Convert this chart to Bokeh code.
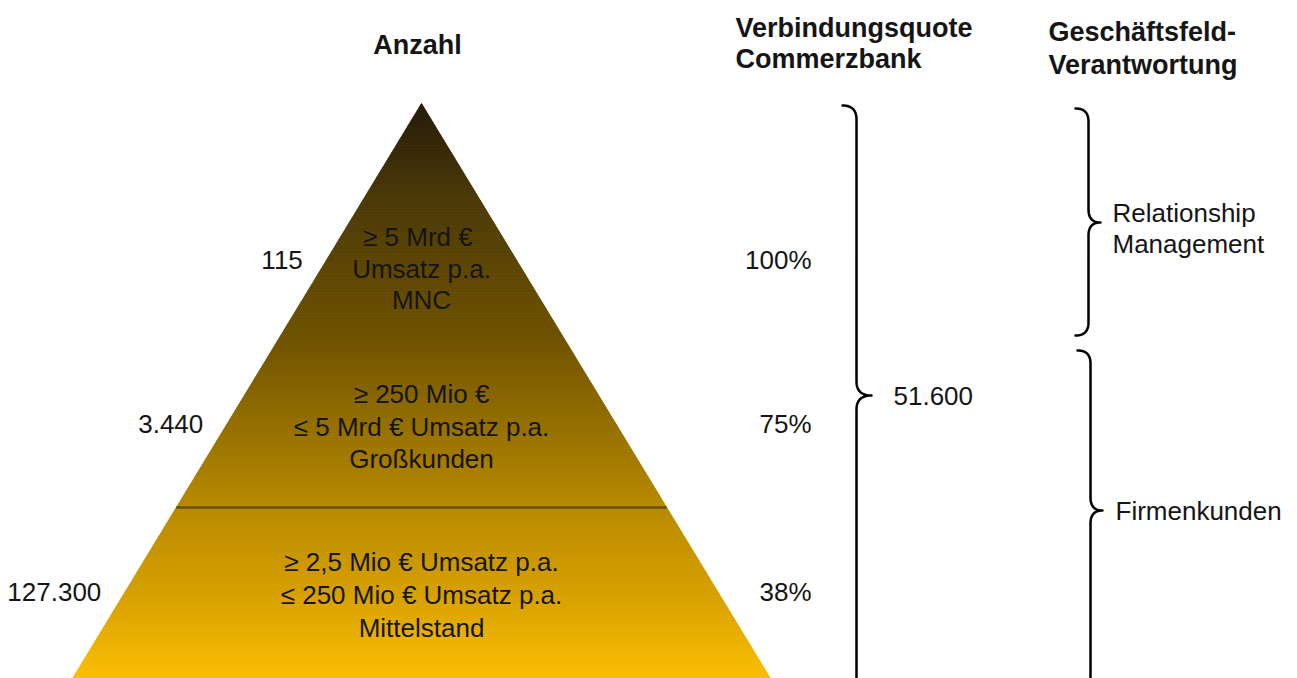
import numpy as np
from bokeh.plotting import figure
from bokeh.models import Range1d, ColumnDataSource
from bokeh.core.properties import value
from bokeh.embed import file_html
from bokeh.resources import INLINE

# ---------------- data ----------------
segments = ["MNC", "Großkunden", "Mittelstand"]
segment_lines = [
    ["≥  5 Mrd €", "Umsatz p.a.", "MNC"],
    ["≥ 250 Mio €", "≤ 5 Mrd € Umsatz p.a.", "Großkunden"],
    ["≥ 2,5 Mio € Umsatz p.a.", "≤ 250 Mio € Umsatz p.a.", "Mittelstand"],
]
anzahl = ["115", "3.440", "127.300"]
verbindungsquote = ["100%", "75%", "38%"]
verbunden_gesamt = "51.600"
verantwortung = [["Relationship", "Management"], ["Firmenkunden"]]
headers = {
    "anzahl": ["Anzahl"],
    "quote": ["Verbindungsquote", "Commerzbank"],
    "gf": ["Geschäftsfeld-", "Verantwortung"],
}

# ---------------- layout (reference pixel units) ----------------
CX, APEX_Y, BASE_Y, BASE_HALF = 421.0, 103.0, 678.0, 349.0
BAND_Y = [APEX_Y, 340.0, 507.0, BASE_Y]
ROW_TEXT_Y = [[236, 268, 299], [393, 426, 458], [561, 594, 627]]
ROW_LABEL_Y = [259, 423, 591]

BODY_FONT = value("Liberation Sans")
BODY_SIZE = "26px"
HEAD_SIZE = "27px"
TXT = "#151515"

p = figure(width=1297, height=678, x_range=Range1d(0, 1297), y_range=Range1d(678, 0),
           output_backend="svg", toolbar_location=None, min_border=0)
p.axis.visible = False
p.grid.visible = False
p.outline_line_color = None
p.background_fill_color = "white"
p.border_fill_color = "white"


def half_width(y):
    return BASE_HALF * (np.asarray(y) - APEX_Y) / (BASE_Y - APEX_Y)


# gradient stops (style)
stop_y = [103, 200, 340, 500, 600, 678]
stop_rgb = np.array([
    [0x25, 0x1b, 0x0a],
    [0x4c, 0x3a, 0x08],
    [0x70, 0x53, 0x00],
    [0xb5, 0x88, 0x00],
    [0xd9, 0xa2, 0x00],
    [0xfb, 0xbe, 0x05],
])

ys = np.arange(APEX_Y, BASE_Y + 6, 1.5)
xs_list, ys_list, cols = [], [], []
for ya, yb in zip(ys[:-1], ys[1:]):
    ha, hb = half_width(ya), half_width(yb)
    xs_list.append([CX - ha, CX + ha, CX + hb, CX - hb])
    ys_list.append([ya, ya, yb, yb])
    ym = 0.5 * (ya + yb)
    rgb = [int(round(np.interp(ym, stop_y, stop_rgb[:, c]))) for c in range(3)]
    cols.append("#%02x%02x%02x" % tuple(rgb))
strip_src = ColumnDataSource(dict(xs=xs_list, ys=ys_list, c=cols))
p.patches("xs", "ys", source=strip_src, fill_color="c", line_color="c", line_width=0.8)

# divider line between Großkunden and Mittelstand
yd = BAND_Y[2]
hd = half_width(yd)
p.line([CX - hd, CX + hd], [yd, yd], line_color="#6a4f00", line_width=2.5)

# segment texts inside pyramid
tx, ty, tt = [], [], []
for lines, rows in zip(segment_lines, ROW_TEXT_Y):
    for t, y in zip(lines, rows):
        tx.append(CX)
        ty.append(y)
        tt.append(t)
p.text(x=tx, y=ty, text=tt, text_align="center", text_baseline="middle",
       text_font=BODY_FONT, text_font_size=BODY_SIZE, text_color=TXT)

# Anzahl labels (right aligned left of pyramid edge)
lx = [CX - float(half_width(y)) - 24 for y in ROW_LABEL_Y]
p.text(x=lx, y=ROW_LABEL_Y, text=anzahl, text_align="right", text_baseline="middle",
       text_font=BODY_FONT, text_font_size=BODY_SIZE, text_color=TXT)

# Verbindungsquote labels
p.text(x=[811] * 3, y=ROW_LABEL_Y, text=verbindungsquote, text_align="right",
       text_baseline="middle", text_font=BODY_FONT, text_font_size=BODY_SIZE, text_color=TXT)

# headers
HF = value("Liberation Sans")
p.text(x=[417], y=[44], text=headers["anzahl"], text_align="center", text_baseline="middle",
       text_font=HF, text_font_size=HEAD_SIZE, text_font_style="bold", text_color=TXT)
p.text(x=[735, 735], y=[27, 58], text=headers["quote"], text_align="left", text_baseline="middle",
       text_font=HF, text_font_size=HEAD_SIZE, text_font_style="bold", text_color=TXT)
p.text(x=[1048, 1048], y=[31, 64], text=headers["gf"], text_align="left", text_baseline="middle",
       text_font=HF, text_font_size=HEAD_SIZE, text_font_style="bold", text_color=TXT)


def brace(x, y0, y1, ytip, r, tipw, n=16):
    t = np.linspace(0, 1, n)

    def qb(p0, p1, p2):
        return ((1 - t) ** 2)[:, None] * np.array(p0) + (2 * (1 - t) * t)[:, None] * np.array(p1) \
            + (t ** 2)[:, None] * np.array(p2)

    segs = [
        qb((x - r, y0), (x, y0), (x, y0 + r)),
        qb((x, ytip - r), (x, ytip), (x + tipw, ytip)),
        qb((x + tipw, ytip), (x, ytip), (x, ytip + r)),
        qb((x, y1 - r), (x, y1), (x - r, y1)),
    ]
    pts = np.vstack(segs)
    return pts[:, 0], pts[:, 1]


for (bx, b0, b1, bt, r, tw) in [(856, 105, 690, 395, 14, 15),
                                (1088, 108, 335, 222, 13, 12),
                                (1090, 350, 690, 510, 13, 12)]:
    bxs, bys = brace(bx, b0, b1, bt, r, tw)
    p.line(bxs, bys, line_color="black", line_width=2.5, line_join="round", line_cap="round")

# right-side labels
p.text(x=[893], y=[395], text=[verbunden_gesamt], text_align="left", text_baseline="middle",
       text_font=BODY_FONT, text_font_size=BODY_SIZE, text_color=TXT)
p.text(x=[1112, 1112], y=[212, 243], text=verantwortung[0], text_align="left",
       text_baseline="middle", text_font=BODY_FONT, text_font_size=BODY_SIZE, text_color=TXT)
p.text(x=[1115], y=[510], text=verantwortung[1], text_align="left", text_baseline="middle",
       text_font=BODY_FONT, text_font_size=BODY_SIZE, text_color=TXT)

open("out.html", "w").write(file_html(p, INLINE))
